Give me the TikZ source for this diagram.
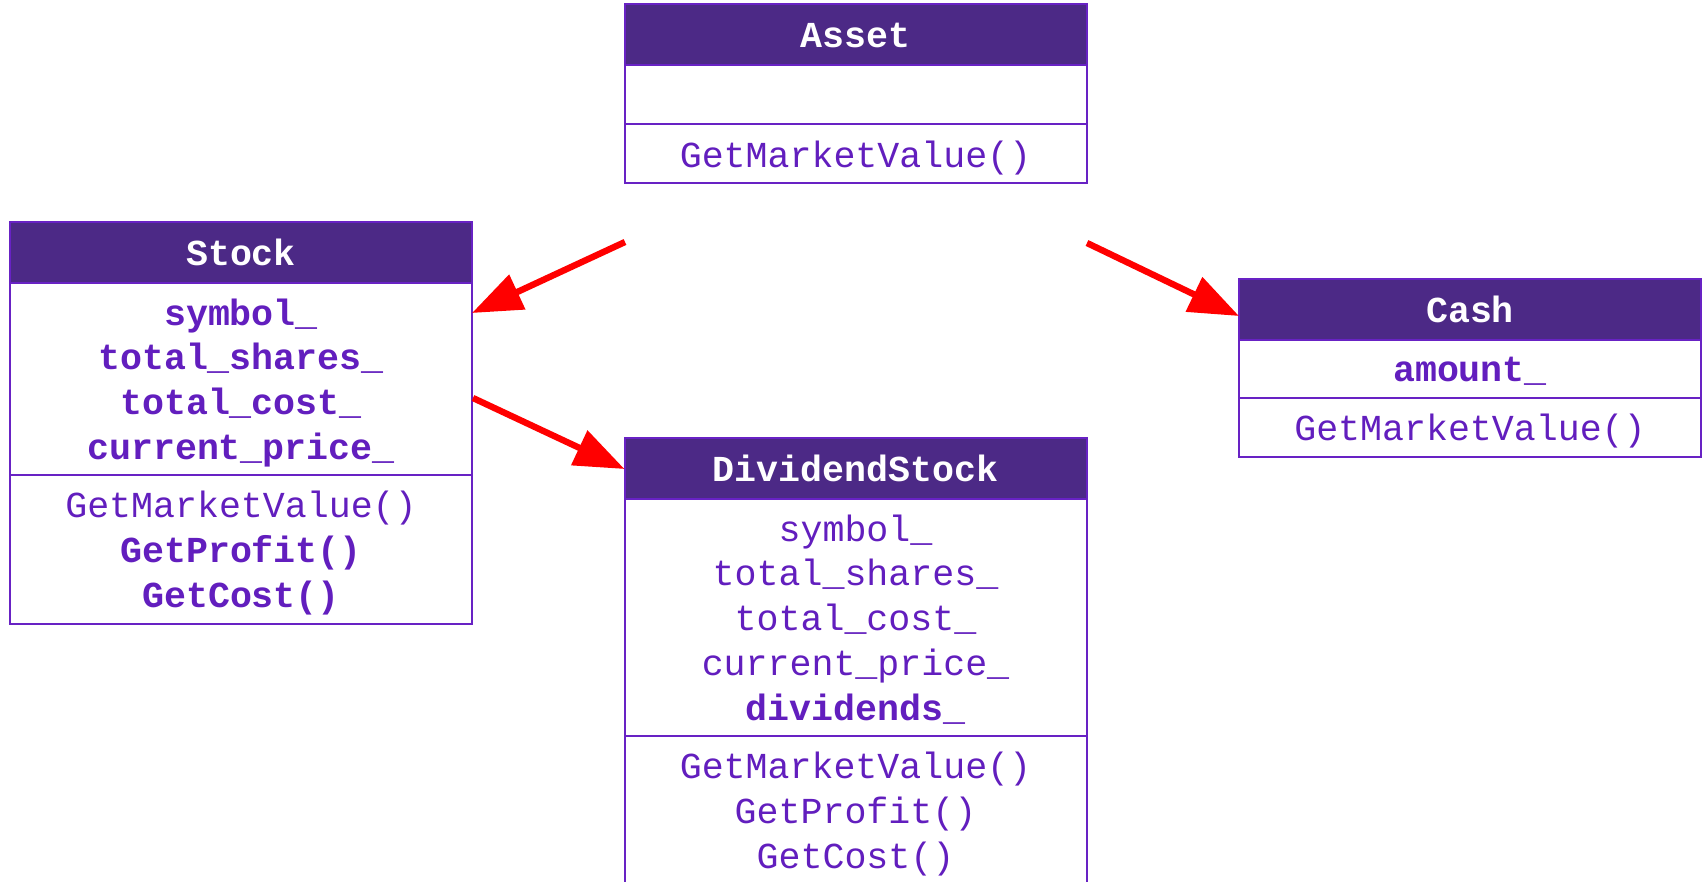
\documentclass[tikz,border=0pt]{standalone}
\usepackage{fontspec}
\usepackage{xcolor}
\usepackage{tikz}
\usetikzlibrary{arrows.meta, positioning}
\newfontfamily\umlfont{Liberation Mono}
\definecolor{umlhead}{RGB}{76,41,134}
\definecolor{umlline}{RGB}{104,34,196}
\definecolor{umltext}{RGB}{98,30,190}
\definecolor{inhred}{RGB}{255,0,0}
\tikzset{
  umlbox/.style={draw=umlline, line width=1pt, outer sep=0pt, inner sep=0pt, minimum width=231pt, align=center,
    font=\umlfont\fontsize{18.3}{22.4}\selectfont},
  head/.style={umlbox, fill=umlhead, text=white, minimum height=30.5pt, font=\umlfont\bfseries\fontsize{18.3}{22.4}\selectfont},
  sec/.style={umlbox, fill=white, text=umltext, text depth=0pt, minimum height=#1},
  inh/.style={-{Triangle[length=25pt, width=18.5pt]}, line width=3.2pt, inhred, shorten >=0pt}
}

\begin{document}
\begin{tikzpicture}[x=0.5pt, y=-0.5pt]
    \useasboundingbox (0,0) rectangle (1704,882);
    \clip (0,0) rectangle (1704,882);
    % classes
    \node[head] (asset) at (855.5,35) {Asset};
    \node[sec=29.5pt, below=0pt of asset] (assetA) {};
    \node[sec=29.5pt, below=0pt of assetA] (assetM) {GetMarketValue()};

    \node[head] (stock) at (241,252.5) {Stock};
    \node[sec=96pt, below=0pt of stock] (stockA) {\textbf{symbol\_}\\\textbf{total\_shares\_}\\\textbf{total\_cost\_}\\\textbf{current\_price\_}};
    \node[sec=74.5pt, below=0pt of stockA] (stockM) {GetMarketValue()\\\textbf{GetProfit()}\\\textbf{GetCost()}};

    \node[head] (cash) at (1470,309.5) {Cash};
    \node[sec=29pt, below=0pt of cash] (cashA) {\textbf{amount\_}};
    \node[sec=29.5pt, below=0pt of cashA] (cashM) {GetMarketValue()};

    \node[head] (divstock) at (855.5,468.5) {DividendStock};
    \node[sec=118.5pt, below=0pt of divstock] (divstockA) {symbol\_\\total\_shares\_\\total\_cost\_\\current\_price\_\\\textbf{dividends\_}};
    \node[sec=74.5pt, below=0pt of divstockA] (divstockM) {GetMarketValue()\\GetProfit()\\GetCost()};

    % inheritance arrows
    \coordinate (tailL) at (625,242);
    \coordinate (tailR) at (1087,243);
    \coordinate (tailS) at (473,398);
    \draw[inh] (tailL) -- (stockA.north east |- 0,313);
    \draw[inh] (tailR) -- (cash.west |- 0,316);
    \draw[inh] (tailS) -- (divstock.west |- 0,469);
\end{tikzpicture}
\end{document}
